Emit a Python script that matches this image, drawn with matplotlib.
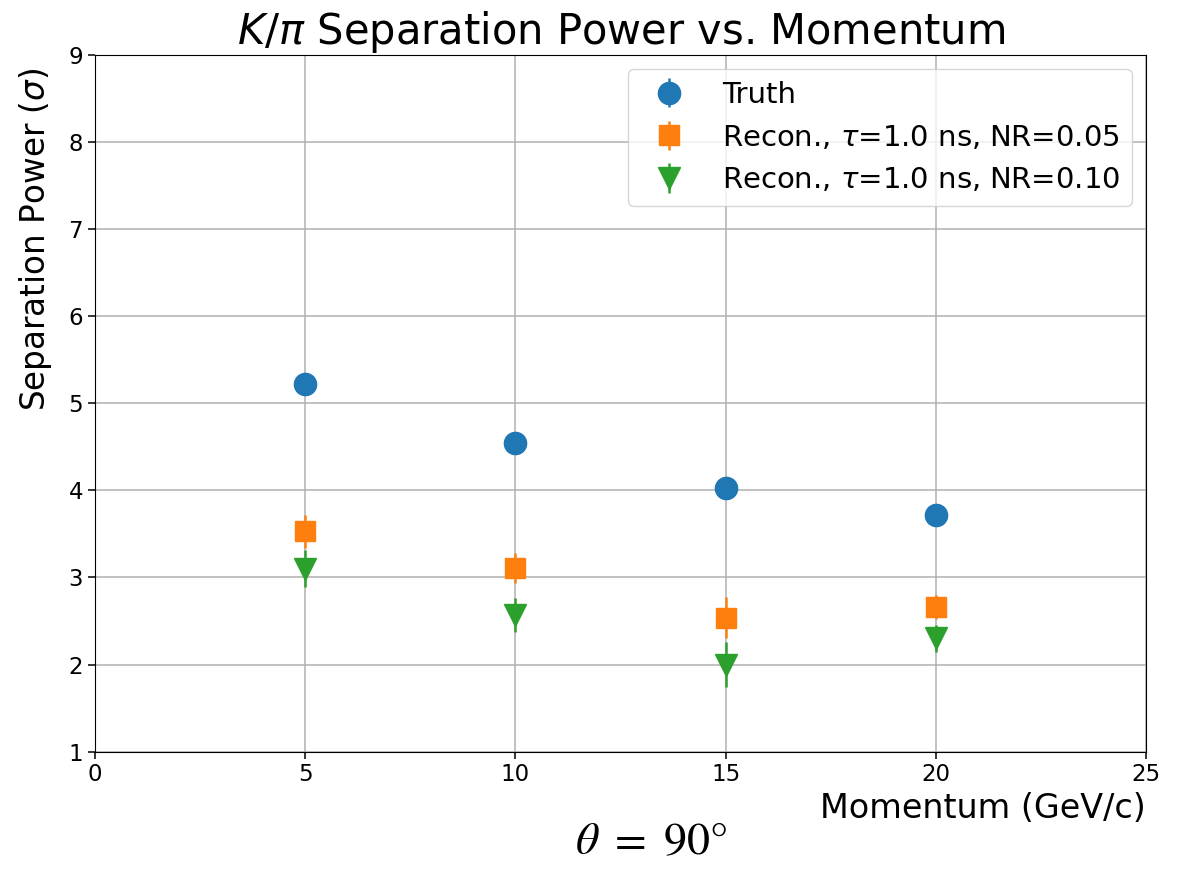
import matplotlib.pyplot as plt
import numpy as np

# K/pi separation power at theta = 90 deg
momentum = np.array([5, 10, 15, 20])

truth_sep = np.array([5.22, 4.54, 4.03, 3.72])
truth_err = np.array([0.02, 0.02, 0.02, 0.02])

nr05_sep = np.array([3.53, 3.11, 2.54, 2.66])
nr05_err = np.array([0.19, 0.17, 0.24, 0.14])

nr10_sep = np.array([3.10, 2.57, 2.00, 2.30])
nr10_err = np.array([0.21, 0.20, 0.26, 0.15])

fig = plt.figure(figsize=(11.78, 8.71), dpi=100)
ax = fig.add_axes([0.0806, 0.137, 0.8924, 0.800])

ax.errorbar(momentum, truth_sep, yerr=truth_err, fmt='o', color='C0',
            markersize=16, elinewidth=1.8, label='Truth', zorder=3)
ax.errorbar(momentum, nr05_sep, yerr=nr05_err, fmt='s', color='C1',
            markersize=15, elinewidth=1.8,
            label=r'Recon., $\tau$=1.0 ns, NR=0.05', zorder=3)
ax.errorbar(momentum, nr10_sep, yerr=nr10_err, fmt='v', color='C2',
            markersize=16, elinewidth=1.8,
            label=r'Recon., $\tau$=1.0 ns, NR=0.10', zorder=3)

ax.set_xlim(0, 25)
ax.set_ylim(1, 9)
ax.set_xticks(np.arange(0, 26, 5))
ax.set_yticks(np.arange(1, 10, 1))
ax.tick_params(labelsize=16.5, length=5, width=1.1)
ax.grid(True, color='#b0b0b0', linewidth=1.1)
ax.set_axisbelow(True)

ax.set_title(r'$K/\pi$ Separation Power vs. Momentum', fontsize=30, pad=4)
ax.set_ylabel(r'Separation Power ($\sigma$)', fontsize=23.5)
ax.yaxis.set_label_coords(-0.039, 0.735)
ax.set_xlabel('Momentum (GeV/c)', fontsize=24, loc='right')

ax.legend(loc='upper right', fontsize=21)

# angle annotation under the axes
fig.text(0.553, 0.008, r'$\theta\ =\ 90°$', fontsize=33, ha='center',
         va='bottom', math_fontfamily='stix')

fig.savefig('out.png', dpi=100)
